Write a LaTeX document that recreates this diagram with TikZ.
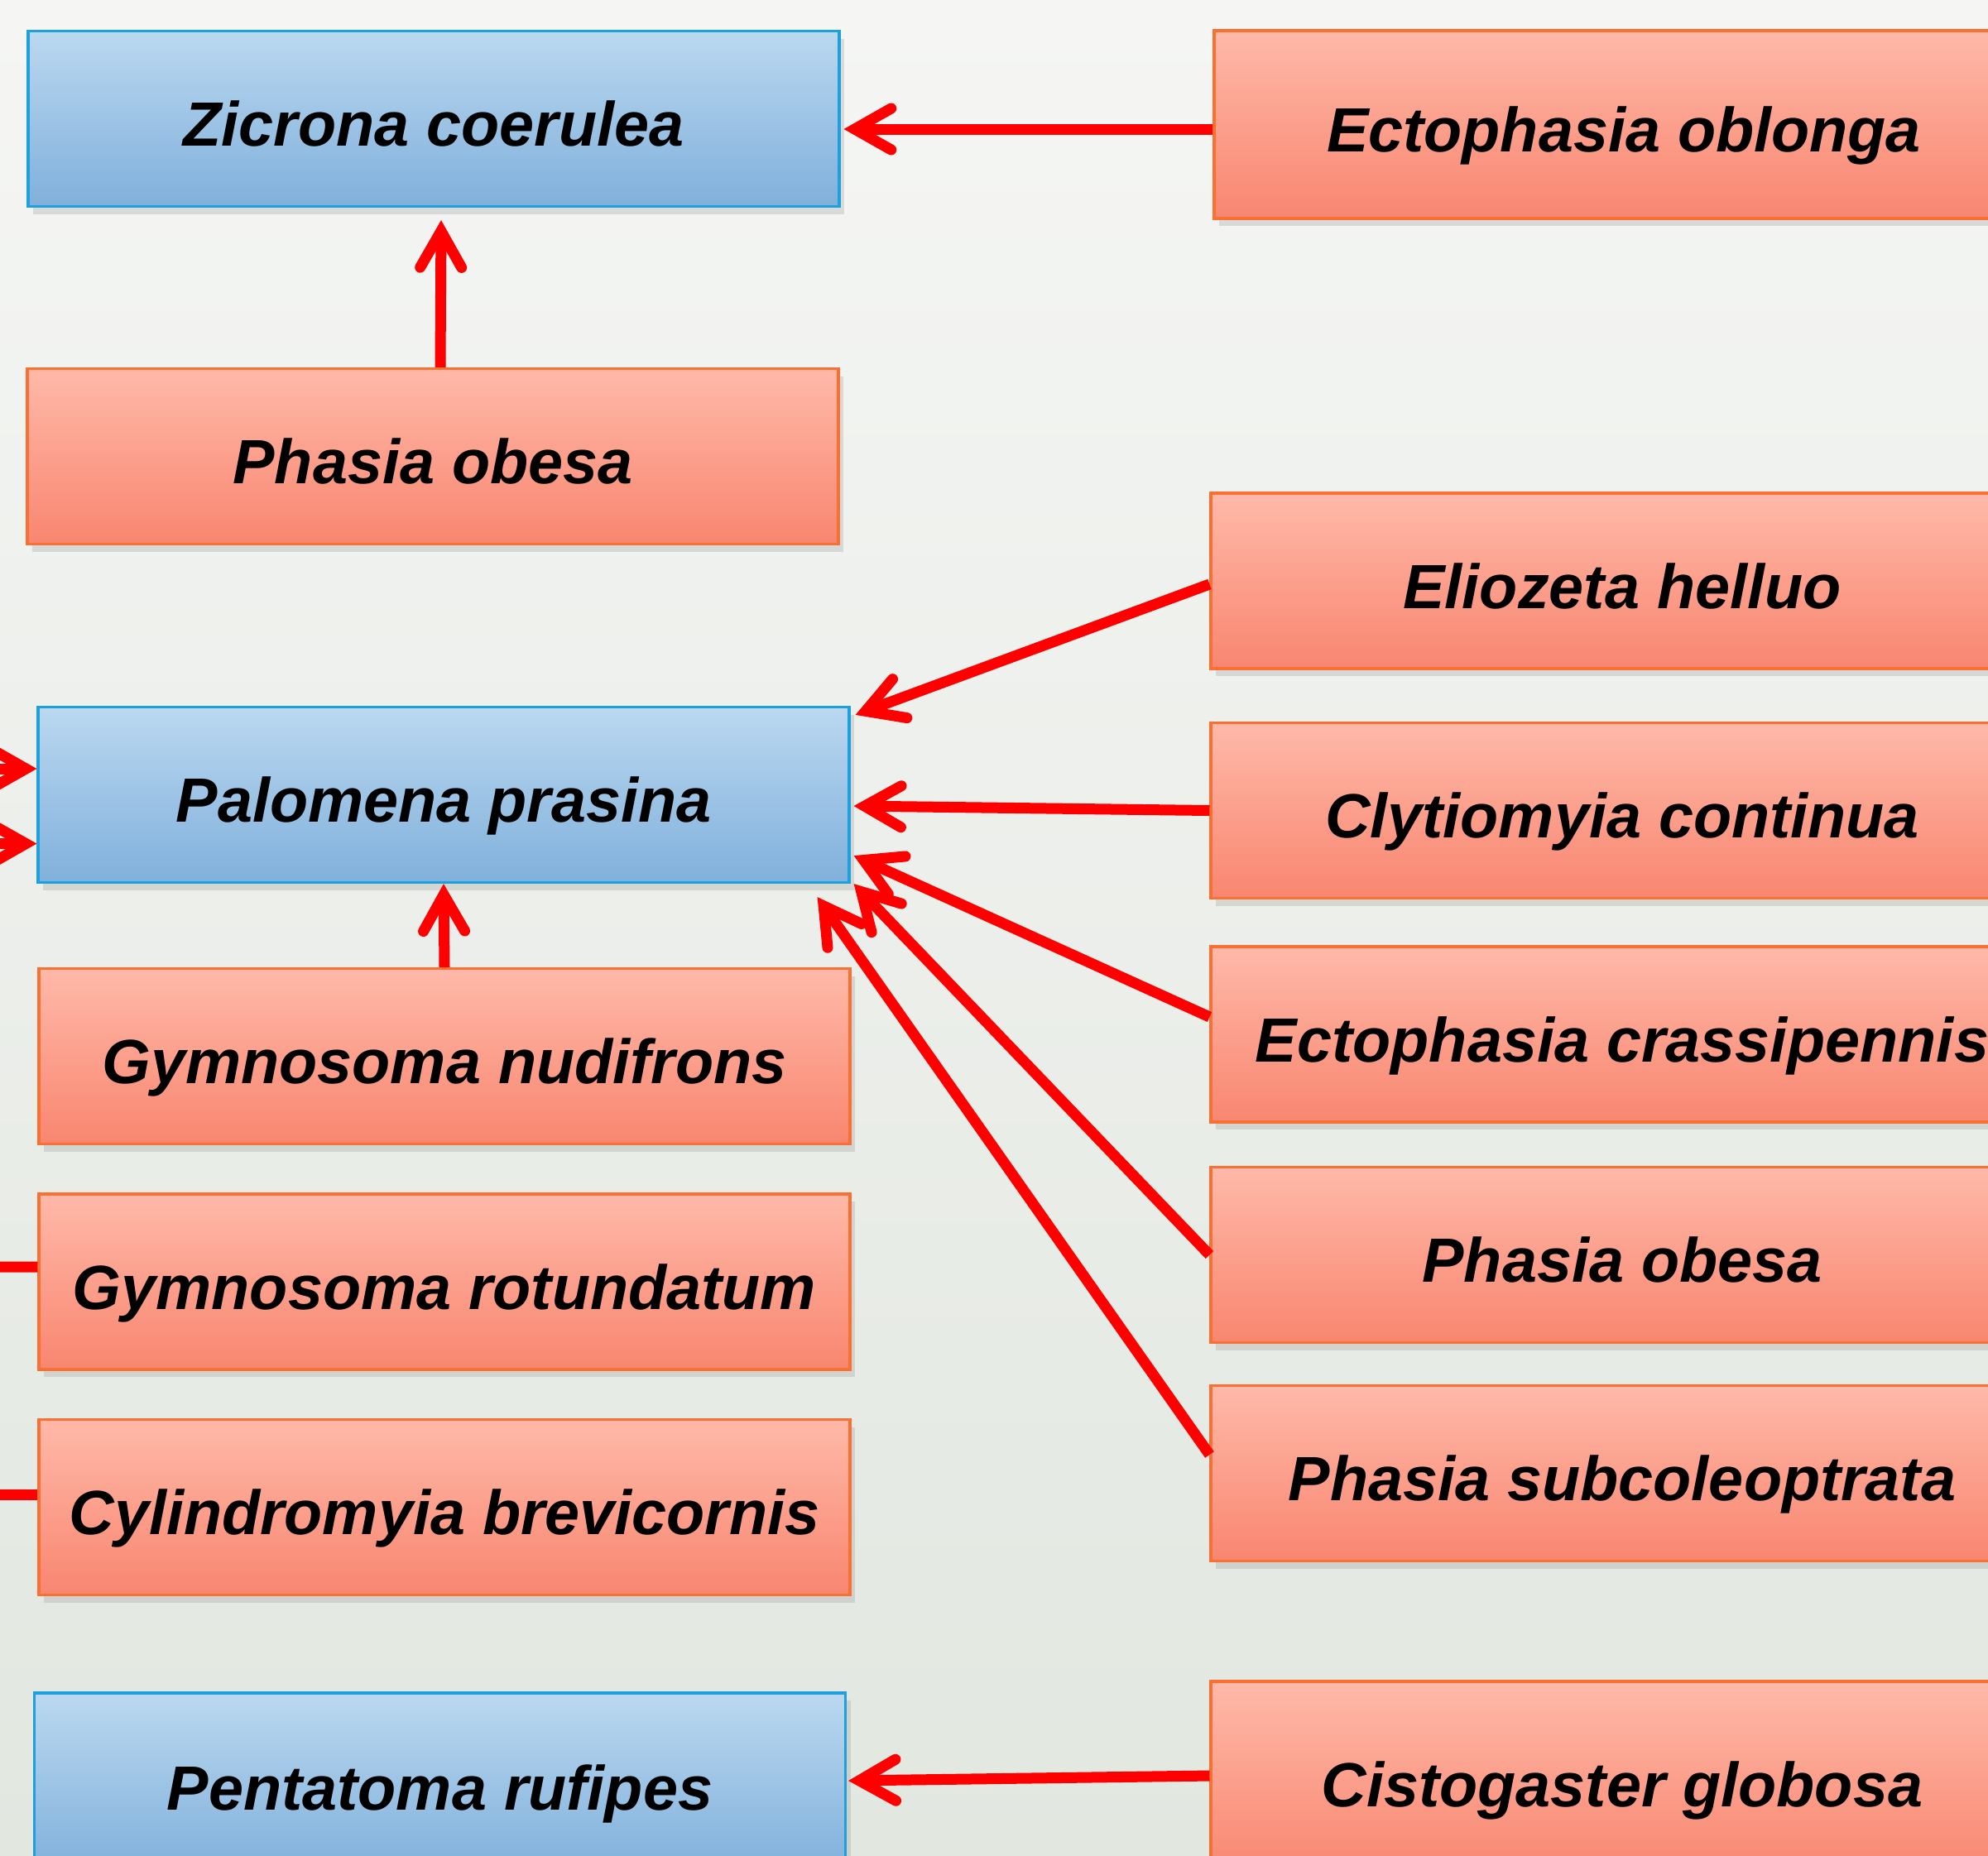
\documentclass[tikz,border=0pt]{standalone}
\usepackage{fontspec}
\setmainfont{Liberation Sans}
\usepackage{xcolor}
\usetikzlibrary{arrows.meta,shadows}
\definecolor{hosttop}{RGB}{187,216,240}
\definecolor{hostbot}{RGB}{128,176,219}
\definecolor{hostline}{RGB}{30,160,220}
\definecolor{flytop}{RGB}{255,185,169}
\definecolor{flybot}{RGB}{248,134,112}
\definecolor{flyline}{RGB}{250,112,50}
\definecolor{arrowred}{RGB}{255,0,0}
\definecolor{bgtop}{RGB}{245,246,244}
\definecolor{bgmid}{RGB}{249,250,249}
\definecolor{bgbot}{RGB}{226,231,224}

\begin{document}
\begin{tikzpicture}[
    species/.style={rectangle, draw, line width=0.9pt, minimum width=9.8cm, minimum height=2.12cm, inner sep=0pt, align=center,
        text height=0.82cm, text depth=0.16cm,
        font=\fontsize{21.5}{26}\selectfont\bfseries\itshape,
        drop shadow={opacity=0.22, shadow xshift=0.06cm, shadow yshift=-0.09cm}},
    hostbox/.style={species, draw=hostline, top color=hosttop, bottom color=hostbot},
    flybox/.style={species, draw=flyline, top color=flytop, bottom color=flybot},
    parasite/.style={draw=arrowred, line width=0.13cm,
        -{Straight Barb[length=0.44cm, width=0.50cm, line cap=round, line join=miter]}},
    stub/.style={draw=arrowred, line width=0.13cm}]
            \useasboundingbox (0,0) rectangle (24.02,-22.42);
            \clip (0,0) rectangle (24.02,-22.42);
            % background
            \shade[top color=bgtop, middle color=bgmid, bottom color=bgbot] (0,0) rectangle (24.02,-22.42);

            % hosts (left column)
            \node[hostbox] (zicrona) at (5.24,-1.435) {Zicrona coerulea};
            \node[flybox] (phasiaL) at (5.23,-5.515) {Phasia obesa};
            \node[hostbox] (palomena) at (5.36,-9.605) {Palomena prasina};
            \node[flybox] (gymnud) at (5.37,-12.765) {Gymnosoma nudifrons};
            \node[flybox] (gymrot) at (5.37,-15.49) {Gymnosoma rotundatum};
            \node[flybox] (cylind) at (5.37,-18.215) {Cylindromyia brevicornis};
            \node[hostbox, minimum height=2.16cm] (pentatoma) at (5.315,-21.54) {Pentatoma rufipes};

            % parasitoids (right column)
            \node[flybox, minimum width=9.9cm, minimum height=2.27cm] (ectobl) at (19.62,-1.505) {Ectophasia oblonga};
            \node[flybox, minimum width=9.94cm] (eliozeta) at (19.60,-7.02) {Eliozeta helluo};
            \node[flybox, minimum width=9.94cm] (clytio) at (19.60,-9.795) {Clytiomyia continua};
            \node[flybox, minimum width=9.94cm] (ectcras) at (19.60,-12.50) {Ectophasia crassipennis};
            \node[flybox, minimum width=9.94cm] (phasiaR) at (19.60,-15.165) {Phasia obesa};
            \node[flybox, minimum width=9.94cm] (phasub) at (19.60,-17.805) {Phasia subcoleoptrata};
            \node[flybox, minimum width=9.94cm, minimum height=2.36cm] (cisto) at (19.60,-21.50) {Cistogaster globosa};

            % ends of links leaving the picture
            \coordinate (inA) at (-1.5,-9.29);
            \coordinate (inB) at (-1.5,-10.20);
            \coordinate (outA) at (-1.5,-15.31);
            \coordinate (outB) at (-1.5,-18.06);

            % arrows
            \draw[parasite] ([yshift=-0.055cm]ectobl.west) -- ([xshift=0.04cm,yshift=-0.125cm]zicrona.east);
            \draw[parasite] ([xshift=0.09cm]phasiaL.north) -- ([xshift=0.09cm,yshift=-0.15cm]zicrona.south);
            \draw[parasite] ([yshift=-0.04cm]eliozeta.west) -- ([xshift=0.06cm,yshift=-0.11cm]palomena.north east);
            \draw[parasite] (clytio.west) -- ([xshift=0.04cm,yshift=-0.135cm]palomena.east);
            \draw[parasite] ([yshift=0.21cm]ectcras.west) -- ([xshift=0.04cm,yshift=0.34cm]palomena.south east);
            \draw[parasite] (phasiaR.west) -- ([xshift=0.04cm]palomena.south east);
            \draw[parasite] ([yshift=0.225cm]phasub.west) -- ([xshift=-0.40cm,yshift=-0.16cm]palomena.south east);
            \draw[parasite] (gymnud.north) -- (palomena.south);
            \draw[parasite] ([yshift=0.04cm]cisto.west) -- ([xshift=0.02cm,yshift=0.02cm]pentatoma.east);
            \draw[parasite] (inA) -- ([yshift=0.315cm]palomena.west);
            \draw[parasite] (inB) -- ([yshift=-0.59cm]palomena.west);
            \draw[stub] ([yshift=0.18cm]gymrot.west) -- (outA);
            \draw[stub] ([yshift=0.155cm]cylind.west) -- (outB);
        \end{tikzpicture}
\end{document}
